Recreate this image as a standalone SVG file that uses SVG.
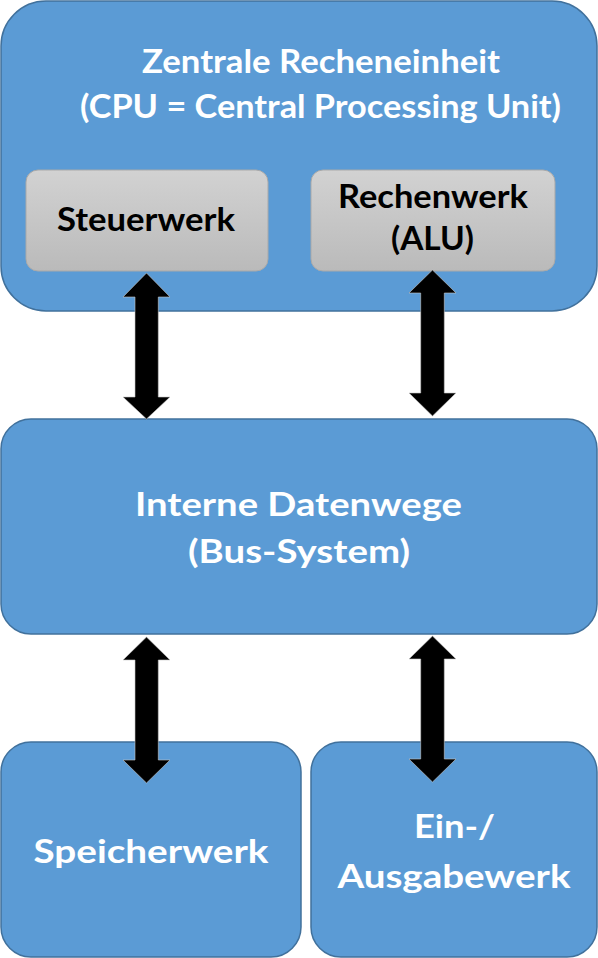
<svg xmlns="http://www.w3.org/2000/svg" width="598" height="958" viewBox="0 0 598 958">
<defs>
<linearGradient id="g" x1="0" y1="0" x2="0" y2="1">
<stop offset="0" stop-color="#d2d2d2"/>
<stop offset="1" stop-color="#bababa"/>
</linearGradient>
</defs>
<style>
.blue{fill:#5b9bd5;stroke:#41719c;stroke-width:1.5}
.gray{fill:url(#g);stroke:#a9a9a9;stroke-width:1}
.w{fill:#ffffff;font-family:Lato,"Open Sans",sans-serif;font-weight:bold;font-size:33px;text-anchor:middle}
.k{fill:#000000;font-family:Lato,"Open Sans",sans-serif;font-weight:bold;font-size:33px;text-anchor:middle}
.arr{fill:#000000;stroke:#c8c8c8;stroke-width:0.6}
</style>
<rect width="598" height="958" fill="#ffffff"/>
<g id="cpu">
<rect class="blue" x="1" y="1" width="596" height="310" rx="45"/>
<text class="w" x="321" y="73" textLength="358" lengthAdjust="spacingAndGlyphs">Zentrale Recheneinheit</text>
<text class="w" x="320.5" y="118" textLength="481" lengthAdjust="spacingAndGlyphs">(CPU = Central Processing Unit)</text>
</g>
<g id="steuerwerk">
<rect class="gray" x="26" y="170" width="242" height="101" rx="12"/>
<text class="k" x="146" y="231" textLength="178" lengthAdjust="spacingAndGlyphs">Steuerwerk</text>
</g>
<g id="rechenwerk">
<rect class="gray" x="311" y="170" width="244" height="101" rx="12"/>
<text class="k" x="433" y="208" textLength="190" lengthAdjust="spacingAndGlyphs">Rechenwerk</text>
<text class="k" x="432.5" y="250" textLength="83" lengthAdjust="spacingAndGlyphs">(ALU)</text>
</g>
<g id="bus">
<rect class="blue" x="1" y="419" width="596" height="215" rx="30"/>
<text class="w" x="298.5" y="516" textLength="327" lengthAdjust="spacingAndGlyphs">Interne Datenwege</text>
<text class="w" x="299" y="563" textLength="222" lengthAdjust="spacingAndGlyphs">(Bus-System)</text>
</g>
<g id="speicherwerk">
<rect class="blue" x="1" y="742" width="300" height="215" rx="30"/>
<text class="w" x="151" y="863" textLength="235" lengthAdjust="spacingAndGlyphs">Speicherwerk</text>
</g>
<g id="ein-ausgabewerk">
<rect class="blue" x="311" y="742" width="286" height="215" rx="30"/>
<text class="w" x="454.5" y="838" textLength="81" lengthAdjust="spacingAndGlyphs">Ein-/</text>
<text class="w" x="454" y="888" textLength="233" lengthAdjust="spacingAndGlyphs">Ausgabewerk</text>
</g>
<g id="connectors">
<polygon class="arr" points="146.5,273 170,297 158.3,297 158.3,397 170,397 146.5,419 123,397 135,397 135,297 123,297"/>
<polygon class="arr" points="432.5,270 456,293 444.3,293 444.3,393 456,393 432.5,416 409,393 420.7,393 420.7,293 409,293"/>
<polygon class="arr" points="146.5,637 170,660 158.3,660 158.3,760 170,760 146.5,783 123,760 135,760 135,660 123,660"/>
<polygon class="arr" points="432.5,636 456,659 444.3,659 444.3,759 456,759 432.5,782 409,759 420.7,759 420.7,659 409,659"/>
</g>
</svg>
